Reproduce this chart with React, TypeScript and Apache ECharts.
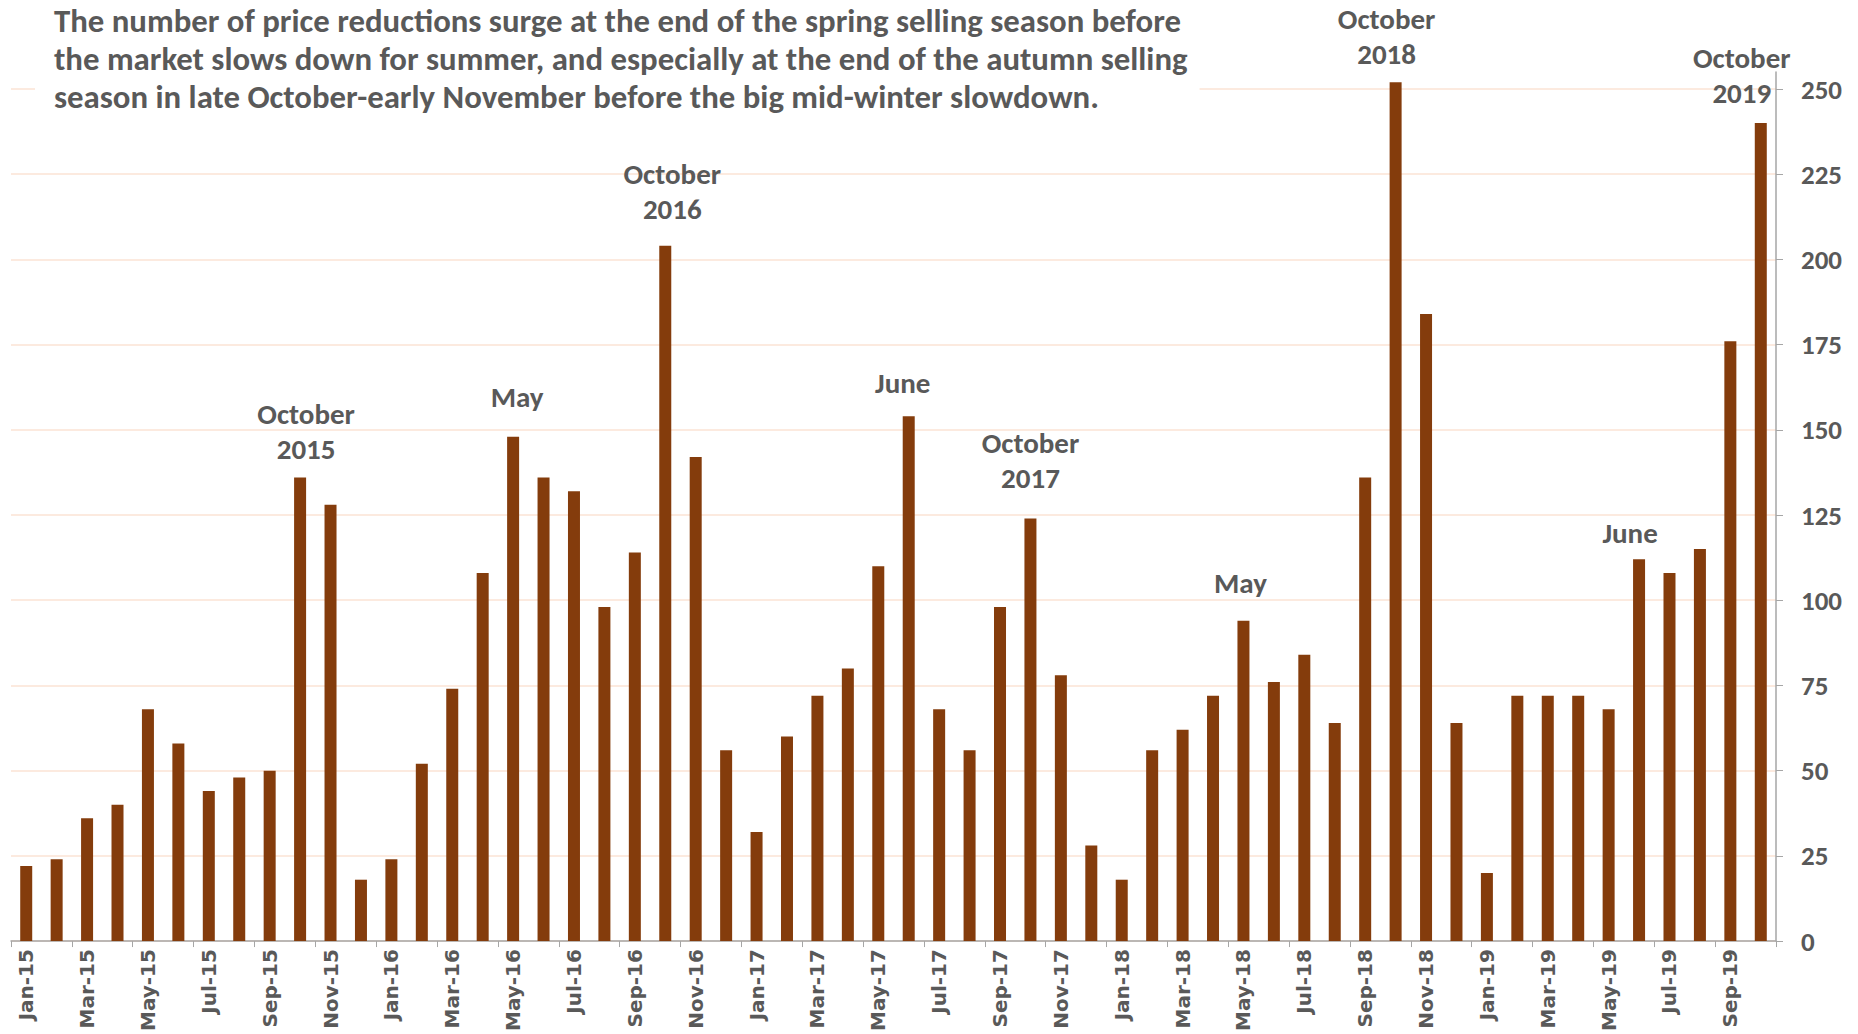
import React, { useEffect, useRef } from "react";
import * as echarts from "echarts";

const months = [
  "Jan-15","Feb-15","Mar-15","Apr-15","May-15","Jun-15","Jul-15","Aug-15","Sep-15","Oct-15","Nov-15","Dec-15",
  "Jan-16","Feb-16","Mar-16","Apr-16","May-16","Jun-16","Jul-16","Aug-16","Sep-16","Oct-16","Nov-16","Dec-16",
  "Jan-17","Feb-17","Mar-17","Apr-17","May-17","Jun-17","Jul-17","Aug-17","Sep-17","Oct-17","Nov-17","Dec-17",
  "Jan-18","Feb-18","Mar-18","Apr-18","May-18","Jun-18","Jul-18","Aug-18","Sep-18","Oct-18","Nov-18","Dec-18",
  "Jan-19","Feb-19","Mar-19","Apr-19","May-19","Jun-19","Jul-19","Aug-19","Sep-19","Oct-19",
];

const reductions = [
  22, 24, 36, 40, 68, 58, 44, 48, 50, 136, 128, 18,
  24, 52, 74, 108, 148, 136, 132, 98, 114, 204, 142, 56,
  32, 60, 72, 80, 110, 154, 68, 56, 98, 124, 78, 28,
  18, 56, 62, 72, 94, 76, 84, 64, 136, 252, 184, 64,
  20, 72, 72, 72, 68, 112, 108, 115, 176, 240,
];

const yTicks = [0, 25, 50, 75, 100, 125, 150, 175, 200, 225, 250];

const annotationMonths = ["Oct-15", "May-16", "Oct-16", "Jun-17", "Oct-17", "May-18", "Oct-18", "Jun-19", "Oct-19"];
const annotationTexts = ["October\n2015", "May", "October\n2016", "June", "October\n2017", "May", "October\n2018", "June", "October\n2019"];

const titleText =
  "The number of price reductions surge at the end of the spring selling season before\n" +
  "the market slows down for summer, and especially at the end of the autumn selling\n" +
  "season in late October-early November before the big mid-winter slowdown.";

// label placement styling (dx, distance) per annotation, same order as annotationMonths
const annotationStyle: [number, number][] = [
  [6, 11], [4, 22], [7, 19], [-6, 16], [0, 23], [-3, 20], [-9, 11], [-9, 9], [-19, 13],
];

const TEXT = "#595959";
const BAR = "#843C0C";
const CALIBRI = "Carlito, 'Liberation Sans Narrow', 'Open Sans', sans-serif";
const GOTHIC = "'DejaVu Sans', sans-serif";

export default function App() {
  const ref = useRef<HTMLDivElement>(null);

  useEffect(() => {
    if (!ref.current) return;
    const chart = echarts.init(ref.current, undefined, { renderer: "svg" });

    const data = reductions.map((v, i) => {
      const ai = annotationMonths.indexOf(months[i]);
      if (ai < 0) return v;
      const [dx, dist] = annotationStyle[ai];
      return {
        value: v,
        label: {
          show: true,
          position: "top",
          distance: dist,
          offset: [dx, 0],
          formatter: annotationTexts[ai],
          fontFamily: CALIBRI,
          fontSize: 29,
          fontWeight: "bold",
          color: TEXT,
          lineHeight: 35,
        },
      };
    });

    chart.setOption({
      animation: false,
      backgroundColor: "#ffffff",
      title: {
        text: titleText,
        left: 35,
        top: 0,
        padding: [2, 12, 6, 19],
        backgroundColor: "#ffffff",
        z: 10,
        textStyle: {
          fontFamily: CALIBRI,
          fontSize: 32.8,
          fontWeight: "bold",
          color: TEXT,
          lineHeight: 38,
        },
      },
      grid: { left: 11, right: 82, top: 72, bottom: 92, containLabel: false },
      xAxis: {
        type: "category",
        data: months,
        boundaryGap: true,
        axisLine: { show: true, lineStyle: { color: "#A6A6A6", width: 1.5 } },
        axisTick: { show: true, interval: 1, length: 6, lineStyle: { color: "#A6A6A6" } },
        axisLabel: {
          interval: 1,
          rotate: 90,
          margin: 8,
          fontFamily: GOTHIC,
          fontWeight: "bold",
          fontSize: 20,
          color: TEXT,
        },
        splitLine: { show: false },
      },
      yAxis: {
        type: "value",
        position: "right",
        min: yTicks[0],
        max: 255,
        interval: yTicks[1] - yTicks[0],
        axisLine: { show: true, lineStyle: { color: "#A6A6A6", width: 1.5 } },
        axisTick: { show: true, length: 7, lineStyle: { color: "#A6A6A6" } },
        axisLabel: {
          margin: 25,
          showMaxLabel: false,
          fontFamily: CALIBRI,
          fontWeight: "bold",
          fontSize: 27,
          color: TEXT,
          formatter: (v: number) => (yTicks.includes(v) ? String(v) : ""),
        },
        splitLine: {
          show: true,
          showMaxLine: false,
          lineStyle: { color: "#FBE3D4", width: 1.5 },
        },
      },
      series: [
        {
          type: "bar",
          data,
          barWidth: 12,
          itemStyle: { color: BAR },
          clip: false,
        },
      ],
    });

    return () => chart.dispose();
  }, []);

  return (
    <div
      ref={ref}
      style={{ position: "fixed", left: 0, top: 0, width: 1858, height: 1034, background: "#fff" }}
    />
  );
}
